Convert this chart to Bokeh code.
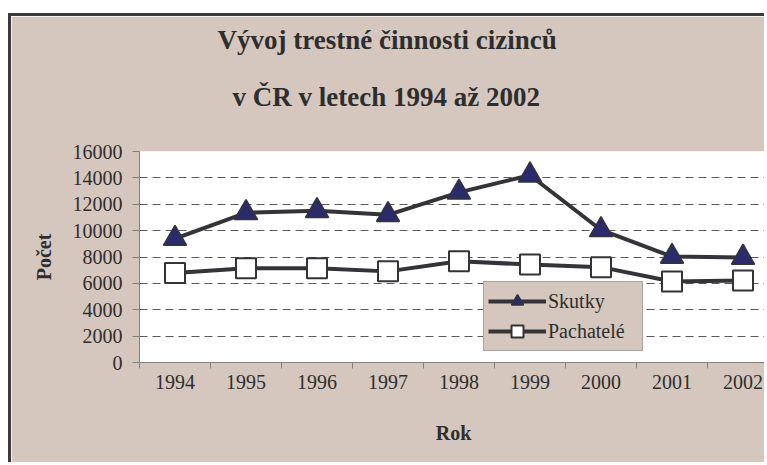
from bokeh.plotting import figure
from bokeh.models import Range1d, FixedTicker, Legend, LegendItem, Title
from bokeh.embed import file_html
from bokeh.resources import INLINE

years = ["1994", "1995", "1996", "1997", "1998", "1999", "2000", "2001", "2002"]
skutky = [9400, 11350, 11500, 11200, 12900, 14200, 10050, 8030, 7960]
pachatele = [6780, 7150, 7150, 6910, 7670, 7430, 7230, 6140, 6220]
y_ticks = [0, 2000, 4000, 6000, 8000, 10000, 12000, 14000, 16000]
grid_ticks = [2000, 4000, 6000, 8000, 10000, 12000, 14000]
title_line1 = "Vývoj trestné činnosti cizinců"
title_line2 = "v ČR v letech 1994 až 2002"

BEIGE = "#d5c7be"
DARK = "#333338"
NAVY = "#2b2b6b"
GRAY = "#808080"
TXT = "#2e2e2e"
FONT = "Liberation Serif"

xs = list(range(len(years)))
W, H = 756, 449
BL, BR, BT = 128, 0, 135
frame_h = 211
BB = H - BT - frame_h
frame_w = W - BL - BR
cat_w = 71

p = figure(width=W, height=H, output_backend="svg", toolbar_location=None,
           x_range=Range1d(-0.5, -0.5 + frame_w / cat_w), y_range=Range1d(0, 16000),
           min_border_left=BL, min_border_right=BR, min_border_top=BT, min_border_bottom=BB)
p.styles = {"border-top": "3px solid #3a3a3e", "border-left": "3px solid #3a3a3e",
            "margin-top": "13px", "margin-left": "8px"}

p.background_fill_color = "white"
p.border_fill_color = BEIGE
p.outline_line_color = None
p.title = None

xa = p.below[0]
ya = p.left[0]

# two title lines, nearest-to-frame first
t2 = Title(text=title_line2, align="left", offset=93, standoff=80,
           text_font=FONT, text_font_size="27px", text_font_style="bold", text_color=TXT)
t1 = Title(text=title_line1, align="left", offset=78, standoff=-30,
           text_font=FONT, text_font_size="27px", text_font_style="bold", text_color=TXT)
p.add_layout(t2, "above")
p.add_layout(t1, "above")

# x axis: labels at category centres, ticks between categories
xa.ticker = FixedTicker(ticks=xs, minor_ticks=[i - 0.5 for i in range(len(years) + 1)])
xa.major_label_overrides = {i: y for i, y in enumerate(years)}
xa.major_tick_line_color = None
xa.major_tick_out = 6
xa.major_tick_in = 0
xa.minor_tick_out = 6
xa.minor_tick_in = 0
xa.minor_tick_line_color = GRAY
xa.axis_line_color = GRAY
xa.major_label_text_font = FONT
xa.major_label_text_font_size = "20px"
xa.major_label_text_color = TXT
xa.major_label_standoff = 6
xa.axis_label = "Rok"
xa.axis_label_text_font = FONT
xa.axis_label_text_font_size = "20px"
xa.axis_label_text_font_style = "bold"
xa.axis_label_text_color = TXT
xa.axis_label_standoff = 30

ya.ticker = FixedTicker(ticks=y_ticks, minor_ticks=[])
ya.major_label_overrides = {t: str(t) for t in y_ticks}
ya.major_tick_out = 7
ya.major_tick_in = 0
ya.major_tick_line_color = GRAY
ya.axis_line_color = GRAY
ya.major_label_text_font = FONT
ya.major_label_text_font_size = "20px"
ya.major_label_text_color = TXT
ya.major_label_standoff = 10
ya.axis_label = "Počet"
ya.axis_label_text_font = FONT
ya.axis_label_text_font_size = "20px"
ya.axis_label_text_font_style = "bold"
ya.axis_label_text_color = TXT
ya.axis_label_standoff = 15

p.xgrid.visible = False
p.ygrid.ticker = FixedTicker(ticks=grid_ticks)
p.ygrid.grid_line_color = "#5a5a5a"
p.ygrid.grid_line_dash = "8 5"
p.ygrid.grid_line_width = 1

l1 = p.line(xs, skutky, line_color=DARK, line_width=4)
m1 = p.scatter(xs, skutky, marker="triangle", size=23, fill_color=NAVY, line_color=DARK, line_width=1.5)
l2 = p.line(xs, pachatele, line_color=DARK, line_width=4)
m2 = p.scatter(xs, pachatele, marker="square", size=20, fill_color="white", line_color=DARK, line_width=2)

legend = Legend(items=[LegendItem(label="Skutky", renderers=[l1, m1]),
                       LegendItem(label="Pachatelé", renderers=[l2, m2])],
                location=(344, 11), margin=0, padding=4, spacing=0,
                glyph_width=58, glyph_height=30, label_height=30, label_width=90,
                label_standoff=2, border_line_color=GRAY, border_line_width=1,
                background_fill_color=BEIGE, background_fill_alpha=1.0,
                label_text_font=FONT, label_text_font_size="20px", label_text_color=TXT)
p.add_layout(legend)

open("out.html", "w").write(file_html(p, INLINE))
